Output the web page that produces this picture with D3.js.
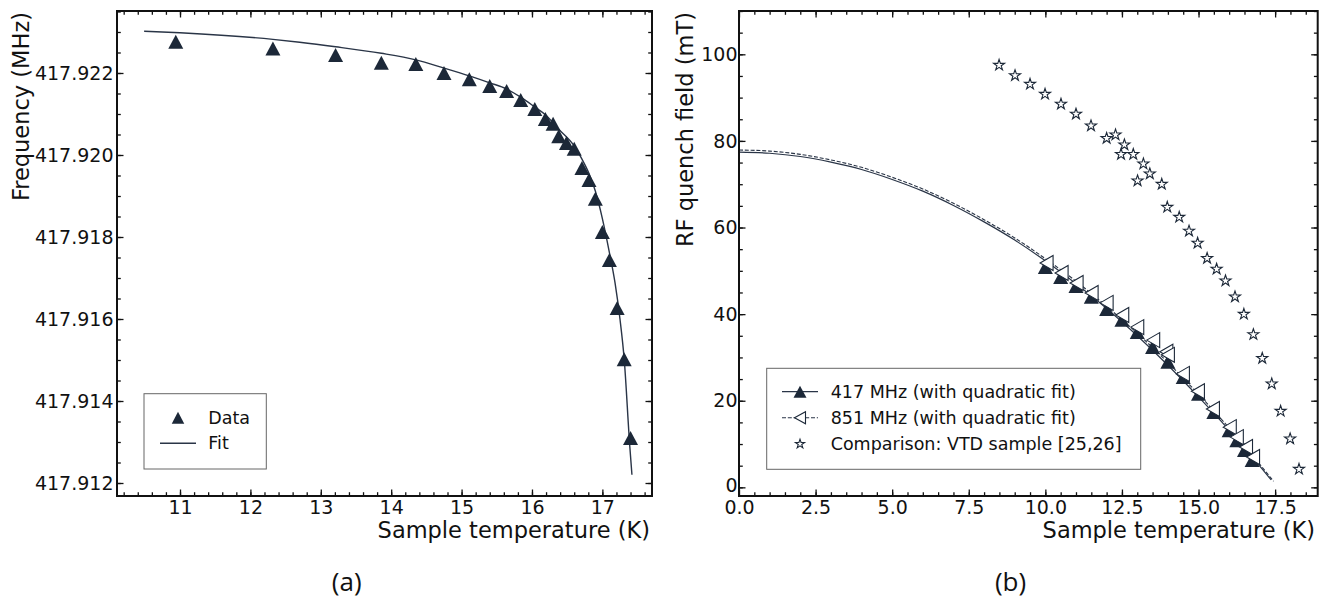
<!DOCTYPE html>
<html>
<head>
<meta charset="utf-8">
<script src="https://cdn.jsdelivr.net/npm/d3@7"></script>
<style>
  body { margin: 0; background: #fff; }
  svg { display: block; }
  .tick text { font-family: "DejaVu Sans", sans-serif; fill: #111; }
  .tick line { stroke: #111; stroke-width: 1.3; }
</style>
</head>
<body>
<script>
const W = 1329, H = 601;
const ink = "#1c2838";

// ---- panel (a): resonance frequency vs temperature
const tempA = [10.94, 12.32, 13.21, 13.86, 14.35, 14.75, 15.11, 15.40, 15.64, 15.84, 16.04, 16.19,
               16.30, 16.38, 16.49, 16.60, 16.71, 16.81, 16.90, 17.00, 17.10, 17.21, 17.31, 17.40];
const freqA = [417.92276, 417.92260, 417.92244, 417.92225, 417.92222, 417.92200, 417.92185, 417.92168,
               417.92156, 417.92134, 417.92112, 417.92088, 417.92076, 417.92046, 417.92029, 417.92015,
               417.91968, 417.91939, 417.91893, 417.91812, 417.91744, 417.91627, 417.91502, 417.91310];
const fitTempA = [10.49, 11.0, 12.32, 12.70, 13.21, 13.86, 14.35, 14.75, 15.11, 15.40, 15.64, 15.84,
                  16.04, 16.19, 16.38, 16.60, 16.71, 16.81, 16.90, 17.00, 17.10, 17.18, 17.25, 17.31, 17.39, 17.42];
const fitFreqA = [417.92302, 417.92298, 417.92282, 417.92275, 417.92264, 417.92248, 417.92232, 417.92212,
                  417.92193, 417.92176, 417.92161, 417.92141, 417.92117, 417.92098, 417.92063, 417.92022,
                  417.91990, 417.91955, 417.91912, 417.91845, 417.91762, 417.91688, 417.91600, 417.91502,
                  417.91288, 417.91220];
const xTicksA = [11, 12, 13, 14, 15, 16, 17];
const yTicksA = [417.912, 417.914, 417.916, 417.918, 417.920, 417.922];

// ---- panel (b): RF quench field vs temperature
const temp417 = [10.0, 10.5, 11.0, 11.5, 12.0, 12.5, 13.0, 13.5, 14.0, 14.5, 15.0, 15.5, 16.0, 16.25, 16.5, 16.75];
const field417 = [50.9, 48.6, 46.5, 44.0, 41.2, 38.7, 35.9, 32.4, 29.0, 25.5, 21.6, 17.4, 13.2, 10.9, 8.6, 6.3];
const temp851 = [10.04, 10.53, 11.02, 11.51, 12.0, 12.51, 13.0, 13.52, 13.95, 14.0, 14.49, 14.98, 15.47, 16.02, 16.25, 16.55, 16.78];
const field851 = [51.8, 49.5, 47.2, 44.9, 42.6, 39.8, 37.0, 34.0, 31.3, 30.6, 26.2, 22.2, 18.1, 13.9, 11.6, 9.3, 7.0];
const fitTemp417 = [0, 1, 2, 3, 4, 5, 6, 7, 8, 9, 10, 11, 12, 13, 14, 15, 16, 17, 17.37];
const fit417 = [77.4, 77.15, 76.4, 75.1, 73.4, 71.1, 68.4, 65.1, 61.3, 57.1, 52.3, 47.0, 41.3, 35.0, 28.2, 20.9, 13.2, 4.9, 1.7];
const fitTemp851 = [0, 1, 2, 3, 4, 5, 6, 7, 8, 9, 10, 11, 12, 13, 14, 15, 16, 17, 17.45];
const fit851 = [77.9, 77.65, 76.9, 75.6, 73.9, 71.6, 68.9, 65.6, 61.8, 57.6, 52.8, 47.6, 41.8, 35.6, 28.8, 21.5, 13.7, 5.3, 1.4];
const tempVTD = [8.49, 9.01, 9.50, 9.99, 10.51, 11.00, 11.49, 12.00, 12.29, 12.58, 12.47, 12.87, 13.20, 13.01, 13.41, 13.80,
                 13.98, 14.37, 14.69, 14.97, 15.28, 15.59, 15.88, 16.19, 16.48, 16.79, 17.08, 17.39, 17.68, 17.99, 18.28];
const fieldVTD = [97.5, 95.1, 93.1, 90.8, 88.5, 86.2, 83.5, 80.6, 81.4, 79.1, 76.9, 76.9, 74.7, 70.8, 72.4, 70.0,
                  64.7, 62.4, 59.2, 56.4, 52.9, 50.4, 47.7, 44.0, 40.0, 35.3, 29.8, 23.9, 17.6, 11.2, 4.2];
const xTicksB = [0, 2.5, 5, 7.5, 10, 12.5, 15, 17.5];
const yTicksB = [0, 20, 40, 60, 80, 100];

const svg = d3.select("body").append("svg")
    .attr("width", W)
    .attr("height", H);
svg.append("rect").attr("width", W).attr("height", H).attr("fill", "#fff");

// triangle paths (w wide, h tall, centred)
function triUp(w, h) {
    return `M0,${-h/2}L${w/2},${h/2}L${-w/2},${h/2}Z`;
}
function triLeft(w, h) {
    return `M${-w/2},0L${w/2},${-h/2}L${w/2},${h/2}Z`;
}
const star = d3.symbol(d3.symbolStar, 38)();

function drawFrame(g, x, y, xMajor, xMinor, yMajor, yMinor, xFmt, yFmt, yPad) {
    const [x0, x1] = x.range();
    const [y0, y1] = y.range();   // y0 bottom, y1 top
    const sides = [
        [d3.axisBottom, x, xMajor, xMinor, `translate(0,${y0})`, xFmt, 4.5],
        [d3.axisTop, x, xMajor, xMinor, `translate(0,${y1})`, null, 0],
        [d3.axisLeft, y, yMajor, yMinor, `translate(${x0},0)`, yFmt, yPad],
        [d3.axisRight, y, yMajor, yMinor, `translate(${x1},0)`, null, 0]
    ];
    sides.forEach(([ax, s, major, minor, tr, fmt, pad]) => {
        g.append("g").attr("transform", tr)
            .call(ax(s).tickValues(minor).tickSize(-3.8).tickFormat(""))
            .call(a => a.select(".domain").remove());
        const m = g.append("g").attr("transform", tr)
            .call(ax(s).tickValues(major).tickSize(-6.5).tickPadding(pad)
                .tickFormat(fmt ? fmt : ""))
            .call(a => a.select(".domain").remove());
        m.selectAll("text").style("font-size", "19px");
    });
    g.append("rect")
        .attr("x", x0).attr("y", y1)
        .attr("width", x1 - x0).attr("height", y0 - y1)
        .attr("fill", "none").attr("stroke", "#111").attr("stroke-width", 2);
}

// ================= panel (a)
const xA = d3.scaleLinear().domain([10.105, 17.705]).range([117, 652]);
const yA = d3.scaleLinear().domain([417.911683, 417.923512]).range([496, 11]);
const gA = svg.append("g");

gA.append("path")
    .datum(fitTempA.map((t, i) => [t, fitFreqA[i]]))
    .attr("fill", "none")
    .attr("stroke", "#2a3547")
    .attr("stroke-width", 1.4)
    .attr("d", d3.line().x(d => xA(d[0])).y(d => yA(d[1])).curve(d3.curveMonotoneX));

gA.selectAll(".dA")
    .data(tempA.map((t, i) => [t, freqA[i]]))
    .enter().append("path")
    .attr("transform", d => `translate(${xA(d[0])},${yA(d[1])})`)
    .attr("d", triUp(15, 14))
    .attr("fill", ink);

drawFrame(gA, xA, yA, xTicksA, d3.range(10.2, 17.65, 0.2), yTicksA, d3.range(417.912, 417.9236, 0.0005),
    d3.format("d"), d3.format(".3f"), 3.5);

// legend (a)
gA.append("rect").attr("x", 144).attr("y", 393.7).attr("width", 122.3).attr("height", 75.3)
    .attr("fill", "#fff").attr("stroke", "#666").attr("stroke-width", 1);
gA.append("path").attr("transform", "translate(178,417.7)").attr("d", triUp(12.5, 12)).attr("fill", ink);
gA.append("line").attr("x1", 160).attr("x2", 196).attr("y1", 443.3).attr("y2", 443.3)
    .attr("stroke", "#2a3547").attr("stroke-width", 1.4);
[["Data", 417.7], ["Fit", 443.3]].forEach(([t, yy]) => {
    gA.append("text").attr("x", 208.3).attr("y", yy).attr("dy", "0.35em")
        .style("font-family", "DejaVu Sans").style("font-size", "17.5px").attr("fill", "#111").text(t);
});

// axis titles sit at the top / right end of their axes
gA.append("text")
    .attr("transform", "translate(28.5,12) rotate(-90)")
    .attr("text-anchor", "end")
    .style("font-family", "DejaVu Sans").style("font-size", "22.5px").attr("fill", "#111")
    .text("Frequency (MHz)");
gA.append("text")
    .attr("x", 650).attr("y", 538).attr("text-anchor", "end")
    .style("font-family", "DejaVu Sans").style("font-size", "22.5px").attr("fill", "#111")
    .text("Sample temperature (K)");

// ================= panel (b)
const xB = d3.scaleLinear().domain([0, 18.89]).range([739, 1317.7]);
const yB = d3.scaleLinear().domain([-2, 110]).range([496, 11]);
const gB = svg.append("g");
const lineB = d3.line().x(d => xB(d[0])).y(d => yB(d[1])).curve(d3.curveMonotoneX);

gB.append("path")
    .datum(fitTemp417.map((t, i) => [t, fit417[i]]))
    .attr("fill", "none").attr("stroke", "#2a3547").attr("stroke-width", 1.2)
    .attr("d", lineB);
gB.append("path")
    .datum(fitTemp851.map((t, i) => [t, fit851[i]]))
    .attr("fill", "none").attr("stroke", "#2a3547").attr("stroke-width", 1.1)
    .attr("stroke-dasharray", "4,1.8")
    .attr("d", lineB);

gB.selectAll(".d417")
    .data(temp417.map((t, i) => [t, field417[i]]))
    .enter().append("path")
    .attr("transform", d => `translate(${xB(d[0])},${yB(d[1])})`)
    .attr("d", triUp(15, 14))
    .attr("fill", ink);
gB.selectAll(".d851")
    .data(temp851.map((t, i) => [t, field851[i]]))
    .enter().append("path")
    .attr("transform", d => `translate(${xB(d[0])},${yB(d[1])})`)
    .attr("d", triLeft(13, 15))
    .attr("fill", "#fff").attr("stroke", ink).attr("stroke-width", 1.1);
gB.selectAll(".dVTD")
    .data(tempVTD.map((t, i) => [t, fieldVTD[i]]))
    .enter().append("path")
    .attr("transform", d => `translate(${xB(d[0])},${yB(d[1])})`)
    .attr("d", star)
    .attr("fill", "#fff").attr("stroke", ink).attr("stroke-width", 1.1);

drawFrame(gB, xB, yB, xTicksB, d3.range(0.5, 18.9, 0.5), yTicksB, d3.range(0, 110.1, 5),
    d3.format(".1f"), d3.format("d"), 1.5);
// the "0" label sits right above "0.0": lift it a little so the two don't collide
gB.selectAll(".tick text").filter(d => d === 0 && yTicksB.includes(d))
    .filter(function() { return this.getAttribute("x") !== null && +this.getAttribute("x") < 0; })
    .attr("dy", "0.2em");

// legend (b)
gB.append("rect").attr("x", 766.7).attr("y", 368.3).attr("width", 374).attr("height", 101)
    .attr("fill", "#fff").attr("stroke", "#666").attr("stroke-width", 1);
gB.append("line").attr("x1", 782).attr("x2", 818).attr("y1", 391.7).attr("y2", 391.7)
    .attr("stroke", "#2a3547").attr("stroke-width", 1.2);
gB.append("path").attr("transform", "translate(800,391.7)").attr("d", triUp(13, 12)).attr("fill", ink);
gB.append("line").attr("x1", 782).attr("x2", 818).attr("y1", 417.7).attr("y2", 417.7)
    .attr("stroke", "#2a3547").attr("stroke-width", 1.1).attr("stroke-dasharray", "4,1.8");
gB.append("path").attr("transform", "translate(800,417.7)").attr("d", triLeft(11, 12))
    .attr("fill", "#fff").attr("stroke", ink).attr("stroke-width", 1.1);
gB.append("path").attr("transform", "translate(800,444)").attr("d", d3.symbol(d3.symbolStar, 26)())
    .attr("fill", "#fff").attr("stroke", ink).attr("stroke-width", 1.1);
[["417 MHz (with quadratic fit)", 391.7], ["851 MHz (with quadratic fit)", 417.7],
 ["Comparison: VTD sample [25,26]", 444]].forEach(([t, yy]) => {
    gB.append("text").attr("x", 830.7).attr("y", yy).attr("dy", "0.35em")
        .style("font-family", "DejaVu Sans").style("font-size", "17.5px").attr("fill", "#111").text(t);
});

gB.append("text")
    .attr("transform", "translate(693,12) rotate(-90)")
    .attr("text-anchor", "end")
    .style("font-family", "DejaVu Sans").style("font-size", "22.5px").attr("fill", "#111")
    .text("RF quench field (mT)");
gB.append("text")
    .attr("x", 1315).attr("y", 538).attr("text-anchor", "end")
    .style("font-family", "DejaVu Sans").style("font-size", "22.5px").attr("fill", "#111")
    .text("Sample temperature (K)");

// panel captions
[["(a)", 346.7], ["(b)", 1010.5]].forEach(([t, cx]) => {
    svg.append("text").attr("x", cx).attr("y", 591).attr("text-anchor", "middle")
        .style("font-family", "Open Sans").style("font-size", "26px").attr("fill", "#111").text(t);
});
</script>
</body>
</html>
